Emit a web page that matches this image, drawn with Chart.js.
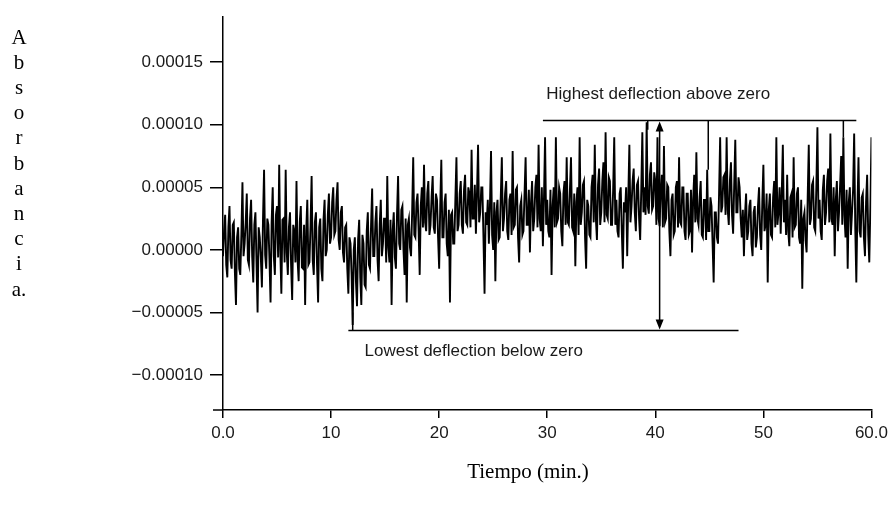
<!DOCTYPE html>
<html lang="es">
  <head>
    <meta charset="UTF-8" />
    <title>Absorbancia vs tiempo</title>
    <style>
      * {
        margin: 0;
        padding: 0;
        box-sizing: border-box;
      }
      body {
        background: #fff;
      }
      .chartBox {
        width: 893px;
        height: 522px;
      }
    </style>
  </head>
  <body>
    <div class="chartBox">
      <canvas id="myChart"></canvas>
    </div>

    <script src="https://cdn.jsdelivr.net/npm/chart.js"></script>

    <script>
      // absorbance, in micro-AU, one sample every 0.1 min
      const sampleStep = 0.1;
      const absorbanceMicro = [
        -5, 15, 28, -12, -22, 18, 35, -8, -15, 20, 22, -18, -44, 10, 18, -15, -20, 12, 54, -5,
        5, 22, 45, -8, -12, 25, 40, -5, -26, 20, 30, -10, -50, 18, 10, -6, -30, 24, 64, -4,
        -15, 25, 20, -8, -42, 22, 50, -5, -20, 28, 35, -6, 68, 0, -35, 24, 25, -10, 64, -2,
        -20, 18, 30, -12, -40, 20, 15, -10, 55, -8, -25, 22, 35, -14, -15, 20, -44, 15, 40, -12,
        -10, 20, 59, -8, -20, 22, 30, -12, -42, 18, 25, -15, -25, 24, 40, -5, 0, 28, 45, 5,
        10, 38, 50, 12, 15, 40, 54, 8, 0, 30, 35, -2, -10, 18, 20, -15, -35, 10, 5, -20,
        -60, 0, 10, -25, -45, 8, 24, -22, -44, 12, 5, -28, -30, 15, 30, -12, -15, 20, 49, -5,
        -5, 22, 35, -8, -25, 20, 40, -5, 5, 25, 25, -10, 59, 2, -10, 24, -44, 15, 30, -6,
        -15, 28, 59, 5, 0, 32, 35, 0, -20, 25, -42, 20, 25, 2, -5, 30, 74, 12, 10, 38,
        45, 15, -20, 35, 50, 18, 68, 22, 15, 45, 55, 12, 20, 42, 59, 18, 13, 45, 40, 10,
        -15, 35, 72, 10, 10, 38, 45, 5, -5, 32, -42, 28, 30, 5, 5, 40, 74, 15, 20, 45,
        55, 20, 13, 48, 60, 22, 20, 50, 45, 18, 80, 25, 25, 52, 13, 45, 84, 22, 30, 50,
        50, 10, -35, 30, 20, 40, 5, 35, 79, 12, 0, 38, -25, 30, 40, 8, 10, 42, 74, 15,
        25, 45, 55, 15, 8, 40, 45, 12, 79, 18, 20, 48, 50, 10, -10, 35, 40, 12, 15, 45,
        74, 20, 20, 48, -2, 38, 55, 15, 25, 50, 60, 18, 84, 25, 15, 50, 3, 42, 90, 20,
        40, 15, 10, 48, -20, 35, 50, 18, 90, 22, 25, 50, 45, 15, 3, 45, 55, 20, 74, 22,
        20, 48, 74, 18, 15, 45, -13, 38, 50, 12, 90, 20, 30, 52, 55, 10, -15, 40, 35, 12,
        10, 50, 60, 22, 84, 25, 8, 52, 65, 20, 30, 55, 70, 22, 94, 28, 25, 58, 55, 20,
        20, 48, 90, 20, 40, 15, 10, 45, 50, 15, -15, 38, 30, 50, -5, 42, 84, 22, 35, 55,
        65, 30, 15, 52, 55, 25, 8, 48, 94, 30, 50, 28, 102, 35, 29, 60, 70, 32, 35, 62,
        55, 20, 90, 25, 19, 50, 60, 18, 83, 22, 25, 52, 50, 15, -5, 40, 45, 12, 15, 50,
        55, 18, 74, 22, 20, 50, 50, 15, 8, 45, 45, 12, 15, 48, -2, 40, 60, 22, 78, 25,
        20, 42, 55, 12, 10, 40, 40, 8, 64, 15, 15, 42, 35, 5, -26, 30, 30, 10, 5, 45,
        90, 30, 35, 58, 60, 28, 90, 32, 20, 55, 70, 28, 13, 52, 88, 30, 30, 58, 50, 25,
        10, 32, -5, 28, 45, 8, 15, 35, 40, 5, -5, 30, 35, 2, 10, 35, 50, 12, 0, 38,
        68, 15, 20, 45, -26, 32, 45, 12, 10, 42, 55, 18, 90, 20, 30, 50, 13, 45, 84, 22,
        40, 12, 60, 15, 3, 42, 45, 10, 74, 18, 20, 45, 50, 10, 5, 40, -31, 25, 30, 8,
        -2, 42, 84, 20, 25, 52, 55, 18, 15, 50, 98, 25, 40, 15, 8, 48, 60, 20, 30, 55,
        65, 22, 93, 25, 20, 50, -5, 40, 55, 15, 30, 52, 75, 20, 90, 28, 10, 48, -15, 38,
        50, 12, 30, 48, 93, 18, -26, 32, 74, 15, 10, 42, 45, 10, -5, 38, 60, 12, -10, 35,
        90,
      ];

      const xTickValues = [0, 10, 20, 30, 40, 50, 60];
      const xTickLabels = ["0.0", "10", "20", "30", "40", "50", "60.0"];
      const yTickValues = [-0.0001, -0.00005, 0, 0.00005, 0.0001, 0.00015];
      const yTickLabels = [
        "\u22120.00010",
        "\u22120.00005",
        "0.00000",
        "0.00005",
        "0.00010",
        "0.00015",
      ];

      // annotation marks (minutes, micro-AU)
      const highestLine = { from: 29.6, to: 58.6, level: 103.5 };
      const highestPeaks = [
        { t: 39.3, top: 96 },
        { t: 44.9, top: 64 },
        { t: 57.4, top: 90 },
      ];
      const lowestLine = { from: 11.6, to: 47.7, level: -64.5, mark: 12.0, markTop: -50 };
      const arrowTime = 40.4;

      const points = absorbanceMicro.map((v, i) => ({
        x: +(i * sampleStep).toFixed(1),
        y: v * 1e-6,
      }));

      const sansFont = "'Liberation Sans', Arial, sans-serif";
      const serifFont = "'Liberation Serif', 'Times New Roman', serif";

      const annotations = {
        id: "annotations",
        afterDatasetsDraw(chart) {
          const { ctx, scales: { x, y } } = chart;
          const px = (t) => x.getPixelForValue(t);
          const py = (v) => y.getPixelForValue(v * 1e-6);

          ctx.save();
          ctx.strokeStyle = "#000";
          ctx.fillStyle = "#000";
          ctx.lineWidth = 1.5;

          // x axis runs a little to the left of the y axis
          ctx.beginPath();
          ctx.moveTo(chart.chartArea.left - 10, chart.chartArea.bottom);
          ctx.lineTo(chart.chartArea.left, chart.chartArea.bottom);
          ctx.stroke();

          // highest deflection
          const hy = py(highestLine.level);
          ctx.beginPath();
          ctx.moveTo(px(highestLine.from), hy);
          ctx.lineTo(px(highestLine.to), hy);
          highestPeaks.forEach((p) => {
            ctx.moveTo(px(p.t), hy);
            ctx.lineTo(px(p.t), py(p.top));
          });

          // lowest deflection
          const ly = py(lowestLine.level);
          ctx.moveTo(px(lowestLine.from), ly);
          ctx.lineTo(px(lowestLine.to), ly);
          ctx.moveTo(px(lowestLine.mark), ly);
          ctx.lineTo(px(lowestLine.mark), py(lowestLine.markTop));

          // double arrow
          const ax = px(arrowTime);
          ctx.moveTo(ax, hy + 8);
          ctx.lineTo(ax, ly - 8);
          ctx.stroke();

          ctx.beginPath();
          ctx.moveTo(ax, hy + 1);
          ctx.lineTo(ax - 4, hy + 11);
          ctx.lineTo(ax + 4, hy + 11);
          ctx.closePath();
          ctx.moveTo(ax, ly - 1);
          ctx.lineTo(ax - 4, ly - 11);
          ctx.lineTo(ax + 4, ly - 11);
          ctx.closePath();
          ctx.fill();

          ctx.fillStyle = "#1a1a1a";
          ctx.font = "17px " + sansFont;
          ctx.textBaseline = "middle";
          ctx.textAlign = "left";
          ctx.fillText("Highest deflection above zero", px(29.9), py(124.5));
          ctx.fillText("Lowest deflection below zero", px(13.1), py(-81));

          // axis titles
          ctx.fillStyle = "#000";
          ctx.font = "21px " + serifFont;
          ctx.textAlign = "center";
          const letters = ["A", "b", "s", "o", "r", "b", "a", "n", "c", "i", "a."];
          letters.forEach((ch, i) => {
            ctx.fillText(ch, 19, 38 + i * 25.2);
          });
          ctx.fillText("Tiempo (min.)", 528, 472);
          ctx.restore();
        },
      };

      const data = {
        datasets: [
          {
            label: "Absorbancia",
            data: points,
            borderColor: "#000",
            borderWidth: 1.9,
            pointRadius: 0,
            tension: 0,
            fill: false,
          },
        ],
      };

      const config = {
        type: "line",
        data: data,
        options: {
          responsive: true,
          maintainAspectRatio: false,
          animation: false,
          layout: {
            padding: { top: 10, right: 19, left: 0, bottom: 0 },
          },
          plugins: {
            legend: { display: false },
            tooltip: { enabled: false },
          },
          scales: {
            x: {
              type: "linear",
              min: 0,
              max: 60,
              afterFit: (scale) => {
                scale.height = 112;
              },
              afterBuildTicks: (scale) => {
                scale.ticks = xTickValues.map((v) => ({ value: v }));
              },
              ticks: {
                maxRotation: 0,
                autoSkip: false,
                padding: 5,
                color: "#1a1a1a",
                font: { family: sansFont, size: 17 },
                callback: (v) => xTickLabels[xTickValues.indexOf(v)],
              },
              grid: {
                drawOnChartArea: false,
                drawTicks: true,
                tickLength: 8,
                color: "#000",
                lineWidth: 1.5,
              },
              border: { color: "#000", width: 1.5 },
            },
            y: {
              min: -0.000128,
              max: 0.000186,
              afterFit: (scale) => {
                scale.width = 223;
              },
              afterBuildTicks: (scale) => {
                scale.ticks = yTickValues.map((v) => ({ value: v }));
              },
              ticks: {
                autoSkip: false,
                padding: 7,
                color: "#1a1a1a",
                font: { family: sansFont, size: 17 },
                callback: (v) => {
                  const i = yTickValues.findIndex((t) => Math.abs(t - v) < 1e-9);
                  return yTickLabels[i];
                },
              },
              grid: {
                drawOnChartArea: false,
                drawTicks: true,
                tickLength: 13,
                color: "#000",
                lineWidth: 1.5,
              },
              border: { color: "#000", width: 1.5 },
            },
          },
        },
        plugins: [annotations],
      };

      const myChart = new Chart(document.getElementById("myChart"), config);
    </script>
  </body>
</html>
